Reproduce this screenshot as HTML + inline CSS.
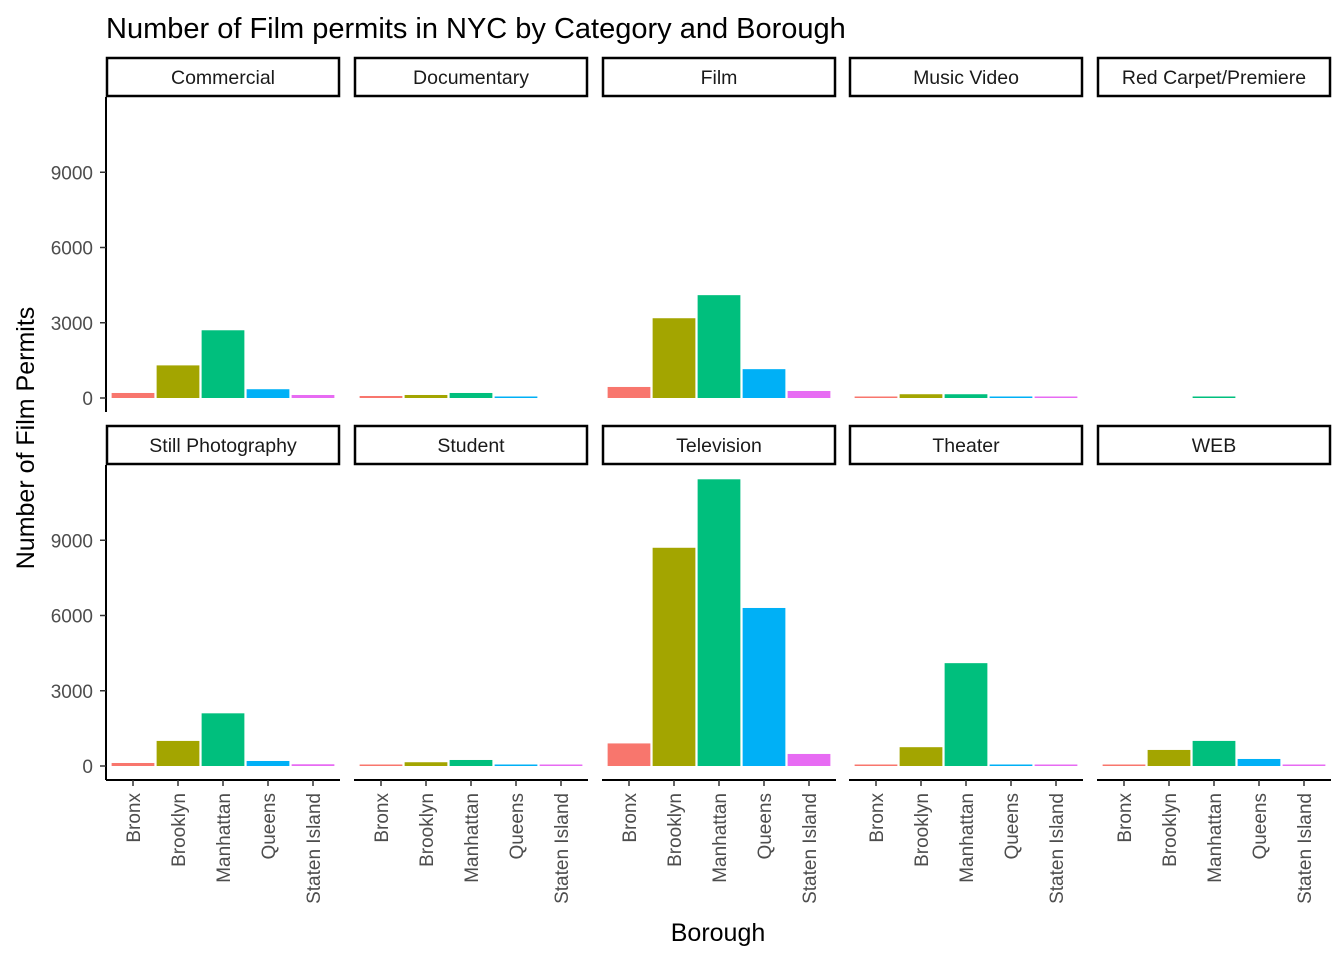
<!DOCTYPE html>
<html><head><meta charset="utf-8"><style>
body{margin:0;background:#fff}
svg{display:block;font-family:"Liberation Sans",Arial,sans-serif}
</style></head><body>
<svg id="chart" width="1344" height="960" viewBox="0 0 1344 960" xmlns="http://www.w3.org/2000/svg">
<text x="106" y="38" font-size="29" fill="#000">Number of Film permits in NYC by Category and Borough</text>
<text x="718" y="941" font-size="25" text-anchor="middle" fill="#000">Borough</text>
<text transform="translate(34,438) rotate(-90)" font-size="25" text-anchor="middle" fill="#000">Number of Film Permits</text>
<g id="panels"></g>
</svg>
<script>
const categories = ["Commercial","Documentary","Film","Music Video","Red Carpet/Premiere","Still Photography","Student","Television","Theater","WEB"];
const boroughs = ["Bronx","Brooklyn","Manhattan","Queens","Staten Island"];
const colors = ["#F8766D","#A3A500","#00BF7D","#00B0F6","#E76BF3"];
const commercial = [200,1300,2700,350,120];
const documentary = [80,120,200,60,0];
const film = [440,3180,4100,1150,280];
const musicVideo = [60,150,150,60,60];
const redCarpet = [0,0,60,0,0];
const stillPhotography = [120,1000,2100,200,70];
const student = [60,150,240,60,60];
const television = [900,8700,11430,6300,480];
const theater = [60,750,4100,60,60];
const web = [60,640,1000,280,60];
const seriesValues = [commercial,documentary,film,musicVideo,redCarpet,stillPhotography,student,television,theater,web];
const yTicks = [0,3000,6000,9000];

const NS = "http://www.w3.org/2000/svg";
const root = document.getElementById("panels");
const panelX = [106,354,602,849,1097];
const panelW = 234;
const rows = [{top:97,zero:398},{top:465,zero:766}];
const pxPer = (398-97)/12000;
function mk(tag, attrs){const e=document.createElementNS(NS,tag);for(const k in attrs)e.setAttribute(k,attrs[k]);return e;}
function yScale(row,v){return rows[row].zero - v*pxPer;}
function xScale(px,i){const step=panelW/(boroughs.length-1+1.2);return px+step*(0.6+i);}
const step = panelW/(boroughs.length-1+1.2);

categories.forEach((cat,ci)=>{
  const row = Math.floor(ci/5), col = ci%5;
  const px = panelX[col], top = rows[row].top;
  const g = mk("g",{});
  
  
  root.appendChild(g);
  // strip
  const sr = mk("rect",{x:px+1,y:top-39,width:panelW-2,height:38,fill:"#fff",stroke:"#000","stroke-width":2.5});
  
  
  g.appendChild(sr);
  const st = mk("text",{x:px+panelW/2,y:top-13,"font-size":19.5,"text-anchor":"middle",fill:"#1a1a1a"});
  st.textContent = cat;
  
  
  g.appendChild(st);
  // bars
  seriesValues[ci].forEach((v,bi)=>{
    if(v<=0) return;
    const cx = xScale(px,bi), w = step*0.95;
    const y0 = yScale(row,0), y1 = yScale(row,v);
    const r = mk("rect",{x:cx-w/2,y:y1,width:w,height:Math.max(y0-y1,0.5),fill:colors[bi]});
    
    
    g.appendChild(r);
  });
  // y axis for first column
  if(col===0){
    const ax = mk("line",{x1:px,y1:top,x2:px,y2:top+315,stroke:"#000","stroke-width":2});
    
    
    g.appendChild(ax);
    yTicks.forEach(t=>{
      const y = yScale(row,t);
      const tk = mk("line",{x1:px-6,y1:y,x2:px,y2:y,stroke:"#333","stroke-width":1.5});
      
      
      g.appendChild(tk);
      const tl = mk("text",{x:px-13,y:y+7,"font-size":19,"text-anchor":"end",fill:"#4d4d4d"});
      tl.textContent = t;
      
      
      g.appendChild(tl);
    });
  }
  // x axis on bottom row
  if(row===1){
    const xb = top+315;
    const ax = mk("line",{x1:px,y1:xb,x2:px+panelW,y2:xb,stroke:"#000","stroke-width":2});
    
    
    g.appendChild(ax);
    boroughs.forEach((b,bi)=>{
      const x = xScale(px,bi);
      const tk = mk("line",{x1:x,y1:xb,x2:x,y2:xb+6,stroke:"#333","stroke-width":1.5});
      
      
      g.appendChild(tk);
      const tl = mk("text",{transform:`translate(${x+7},${xb+13}) rotate(-90)`,"font-size":19,"text-anchor":"end",fill:"#4d4d4d"});
      tl.textContent = b;
      
      
      g.appendChild(tl);
    });
  }
});
</script>
</body></html>
